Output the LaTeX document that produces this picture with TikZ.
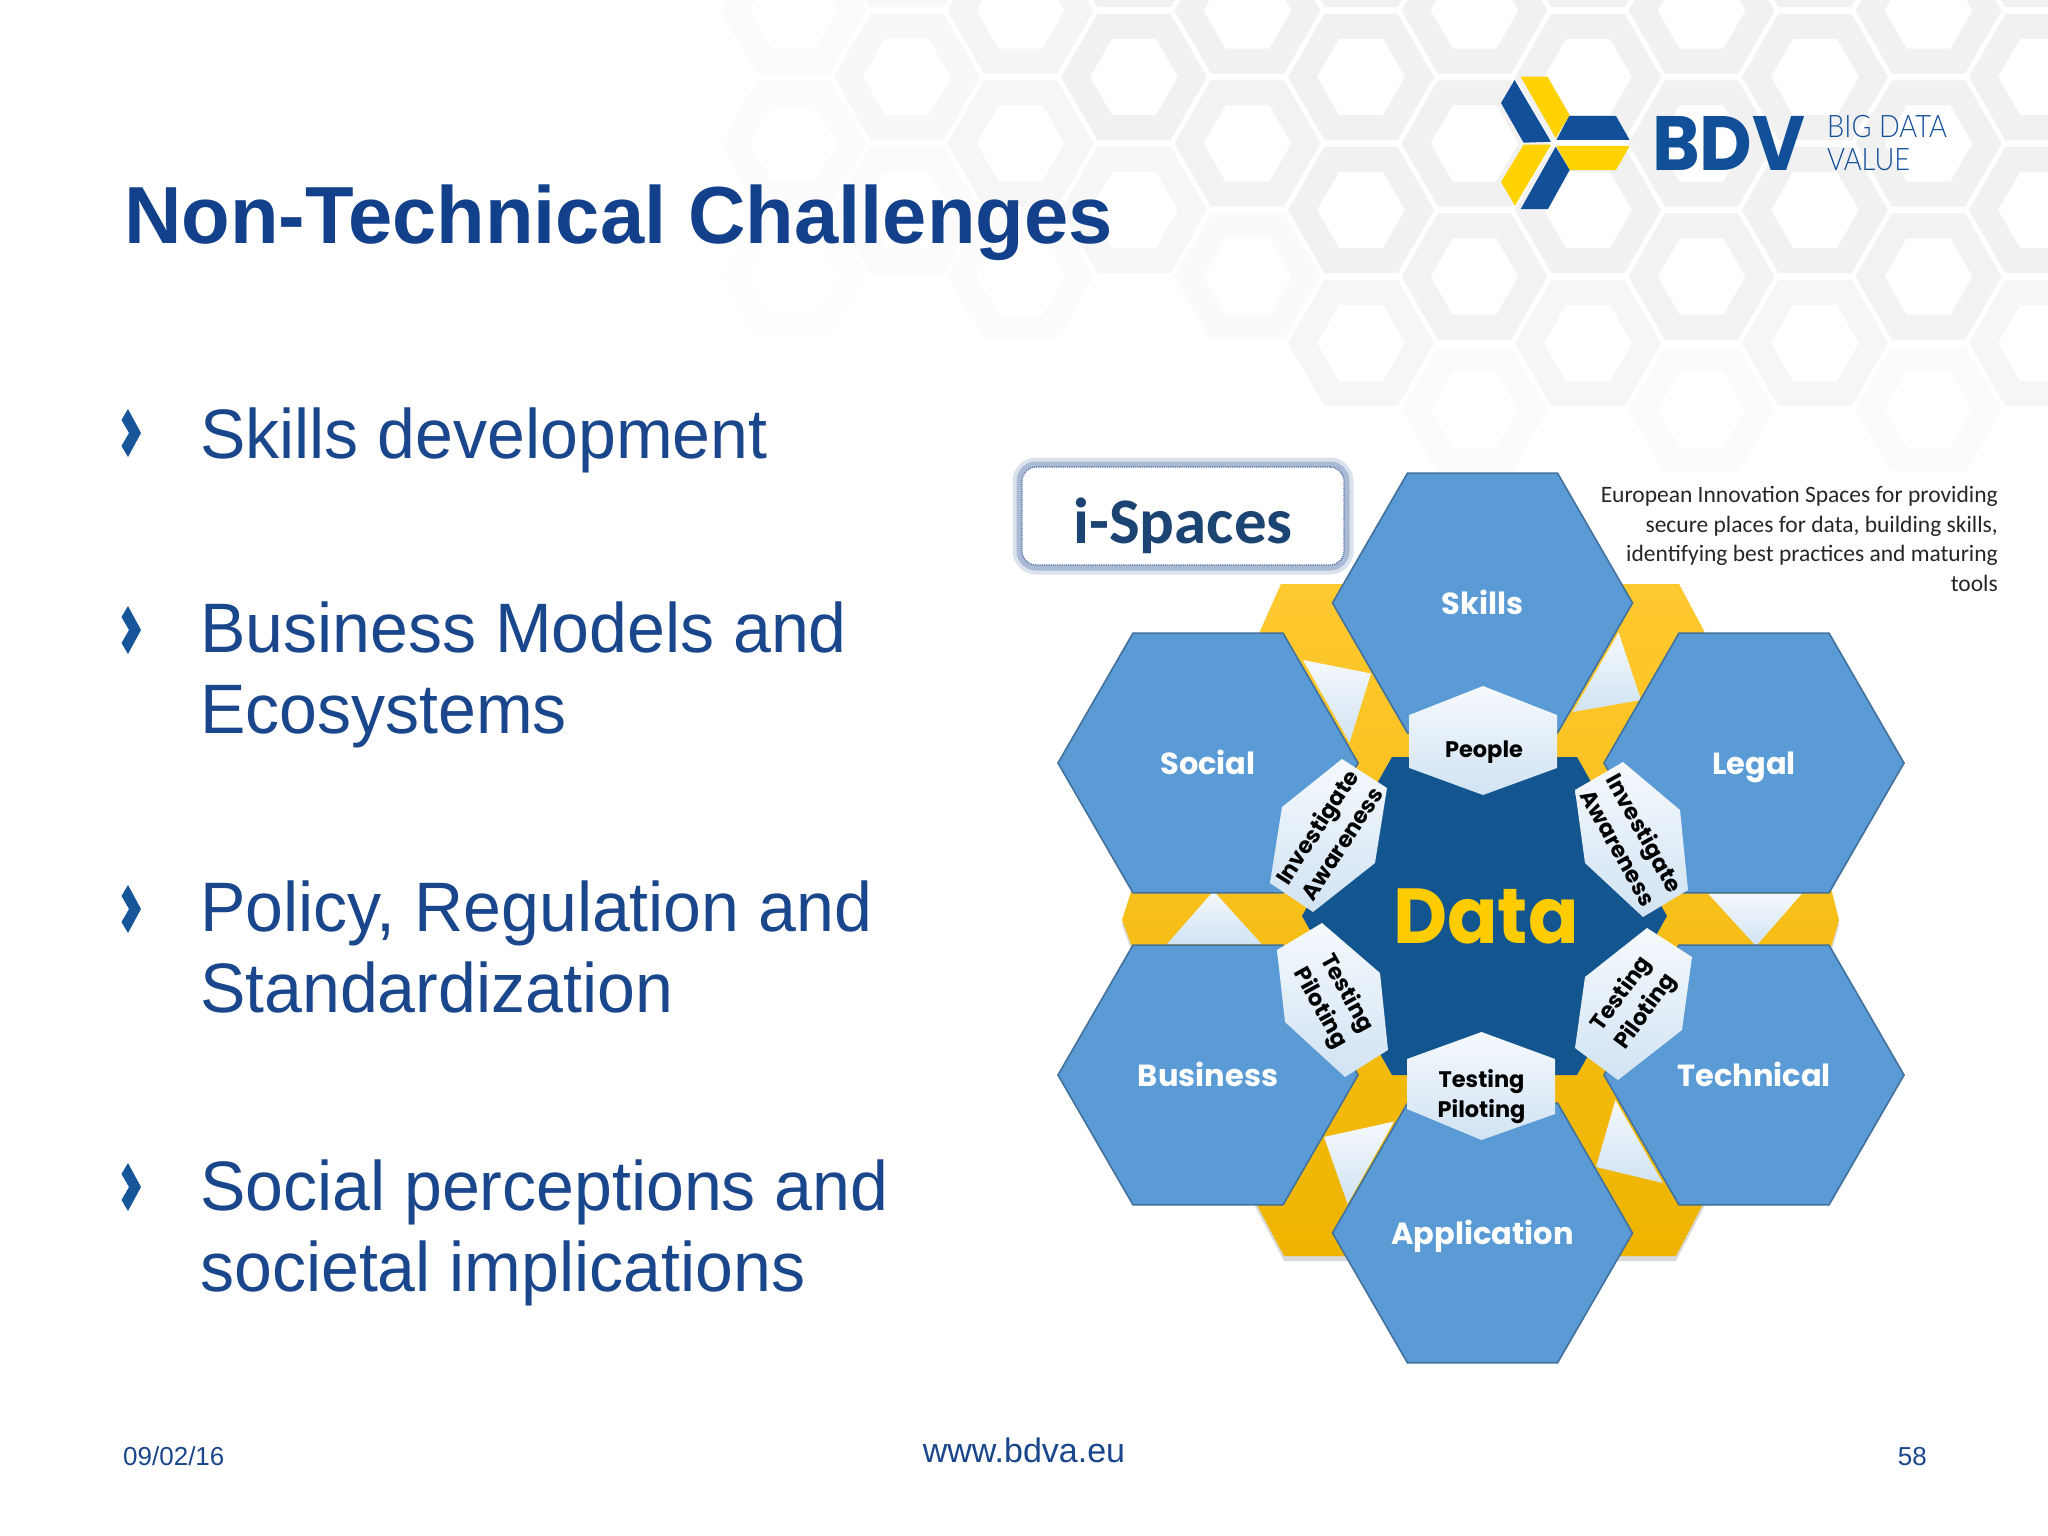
\documentclass[tikz,border=0pt]{standalone}
\usepackage{fontspec}
\setmainfont{Liberation Sans}
\newfontfamily\calfont{Carlito}
\newfontfamily\hexfont{Poppins}
\newfontfamily\thinfont{Lato Light}
\usetikzlibrary{shapes.geometric}
\definecolor{titleblue}{HTML}{12408A}
\definecolor{bodyblue}{HTML}{1A468C}
\definecolor{bulletblue}{HTML}{17559A}
\definecolor{cellblue}{HTML}{5B9BD5}
\definecolor{celledge}{HTML}{41719C}
\definecolor{coreblue}{HTML}{13558F}
\definecolor{logoblue}{HTML}{124F99}
\definecolor{logoyellow}{HTML}{FFD200}
\definecolor{datayellow}{HTML}{FFCC00}
\definecolor{groundtop}{HTML}{FFC930}
\definecolor{groundlow}{HTML}{EEB400}
\definecolor{honey}{HTML}{F1F1F1}
\definecolor{boxtext}{HTML}{1B4472}
\tikzset{
	hexcell/.style={regular polygon,regular polygon sides=6,minimum size=300pt,text height=27pt,text depth=5pt,
		fill=cellblue,draw=celledge,line width=1.6pt,text=white,font=\hexfont\bfseries\fontsize{30.5}{34}\selectfont,inner sep=0pt},
	tilefill/.style={top color=white!94!cellblue,bottom color=white!72!cellblue,draw=none},
	tiletext/.style={font=\hexfont\bfseries\fontsize{22.5}{30}\selectfont,text=black,align=center,inner sep=0pt},
	bodytext/.style={font=\fontsize{70}{80.7}\selectfont,text=bodyblue,align=left,inner sep=0pt,anchor=base west,xscale=.972},
	foottext/.style={font=\fontsize{26}{30}\selectfont,text=bodyblue,inner sep=0pt},
	ground/.style={insert path={(1281,584) -- (1679,584) -- (1701.5,626) -- (1832,892) -- (1839,920) -- (1832,944) -- (1701.5,1207)
		-- (1676,1256) -- (1284,1256) -- (1258,1207) -- (1131,944) -- (1122,920) -- (1131,892) -- (1261,629) -- cycle}},
}
\newcommand{\hexring}[3]{({#1-#3},#2) -- ({#1-.5*#3},{#2-.866*#3}) -- ({#1+.5*#3},{#2-.866*#3}) -- ({#1+#3},#2) -- ({#1+.5*#3},{#2+.866*#3}) -- ({#1-.5*#3},{#2+.866*#3}) -- cycle}
\begin{document}
\begin{tikzpicture}[x=1pt,y=-1pt]
	\useasboundingbox (0,0) rectangle (2048,1536);
	\fill[white] (0,0) rectangle (2048,1536);

	% honeycomb behind the title
	\begin{scope}
	\clip (700,0) rectangle (2048,470);
	\foreach \col in {-1,...,10}{
		\foreach \row in {-1,...,3}{
			\pgfmathsetmacro\cx{907+113.5*\col}
			\pgfmathsetmacro\cy{77+133*\row+66.5*mod(\col+2,2)}
			\pgfmathsetmacro\cut{\cx<1260 ? 340 : 470}
			\pgfmathsetmacro\op{min(1,max(0,(\cut-\cy)/220))*min(1,max(0.2,(\cx-680)/480))}
			\fill[honey,even odd rule,opacity=\op] \hexring{\cx}{\cy}{73} \hexring{\cx}{\cy}{44};
		}
	}
	\end{scope}

	% logo
	\fill[logoblue] (1569,116) -- (1616,116) -- (1629.6,140) -- (1556.4,140) -- cycle;
	\fill[logoyellow] (1556.4,146) -- (1629.6,146) -- (1616,170) -- (1569.6,170) -- cycle;
	\fill[logoblue] (1514.6,80) -- (1551,141.7) -- (1523.6,142.7) -- (1501,103) -- cycle;
	\fill[logoyellow] (1520.7,76.7) -- (1547.5,76.7) -- (1569.6,115) -- (1555.7,138) -- cycle;
	\fill[logoyellow] (1523.6,144.7) -- (1551,144.7) -- (1515,205.7) -- (1501,182) -- cycle;
	\fill[logoblue] (1555.7,146.7) -- (1569.6,170) -- (1548,209) -- (1520.7,209) -- cycle;
	\node[inner sep=0pt,anchor=base west,xscale=.94,text=logoblue,font=\hexfont\bfseries\fontsize{77}{80}\selectfont] (bdv) at (1652,170) {BDV};
	\node[inner sep=0pt,anchor=base west,xscale=.88,text=logoblue,font=\thinfont\fontsize{31}{32}\selectfont] (bigdata) at (1827,138) {BIG DATA};
	\node[inner sep=0pt,anchor=base west,xscale=.88,text=logoblue,font=\thinfont\fontsize{31}{32}\selectfont] (value) at (1827,170) {VALUE};

	% title and list
	\node[inner sep=0pt,anchor=base west,xscale=.982,text=titleblue,font=\bfseries\fontsize{81}{90}\selectfont] (title) at (124,243) {Non-Technical Challenges};
	\node[bodytext] (skilldev) at (200,458) {Skills development};
	\node[bodytext] (bizmodel) at (200,733) {Business Models and\\Ecosystems};
	\node[bodytext] (policy) at (200,1012) {Policy, Regulation and\\Standardization};
	\node[bodytext] (social) at (200,1291) {Social perceptions and\\societal implications};
	\foreach \y in {433,630,909,1187}
		\fill[bulletblue] (121.5,\y-13) -- (128,\y-24) -- (141,\y) -- (128,\y+24) -- (121.5,\y+13) -- (129,\y) -- cycle;

	% yellow ground
	\fill[black,opacity=.15,yshift=-5pt,ground];
	\shade[top color=groundtop,bottom color=groundlow,ground];
	\shade[tilefill] (1303,660) -- (1371,673.5) -- (1349.5,742.6) -- cycle;
	\shade[tilefill] (1618.6,632.5) -- (1641,700) -- (1572.7,712) -- cycle;
	\shade[tilefill] (1708,893.5) -- (1802,893.5) -- (1756,946) -- cycle;
	\shade[tilefill] (1615.4,1100) -- (1663,1183) -- (1596,1167) -- cycle;
	\shade[tilefill] (1324,1137) -- (1394,1121.5) -- (1347.6,1204) -- cycle;
	\shade[tilefill] (1213.6,891) -- (1261.5,944) -- (1167,944) -- cycle;

	% outer cells
	\node[hexcell] (skills) at (1482.5,603) {Skills};
	\node[hexcell] (socialcell) at (1208,763) {Social};
	\node[hexcell] (legal) at (1754,763) {Legal};
	\node[hexcell] (business) at (1208,1075) {Business};
	\node[hexcell] (technical) at (1754,1075) {Technical};
	\node[hexcell] (application) at (1482.5,1233) {Application};

	% centre
	\fill[coreblue] (1392,757) -- (1577,757) -- (1667,916) -- (1577,1075) -- (1392,1075) -- (1302,916) -- cycle;
	\node[inner sep=0pt,xscale=.955,text=datayellow,font=\hexfont\bfseries\fontsize{78}{80}\selectfont] (data) at (1486,916) {Data};

	% small tiles
	\shade[tilefill] (1409.4,715) -- (1483,686) -- (1557,715) -- (1557,768) -- (1483,795) -- (1409.4,768) -- cycle;
	\shade[tilefill] (1407,1059) -- (1481.5,1032) -- (1555,1059) -- (1555,1114) -- (1481.5,1140) -- (1407,1109) -- cycle;
	\shade[tilefill] (1342,759) -- (1387,788) -- (1375,863) -- (1313,912) -- (1270,883) -- (1282,807) -- cycle;
	\shade[tilefill] (1623,762) -- (1680,810) -- (1688,890) -- (1643,917) -- (1585,863) -- (1575,790) -- cycle;
	\shade[tilefill] (1322,923) -- (1380,973) -- (1388,1050) -- (1345,1077) -- (1285,1022) -- (1277,950) -- cycle;
	\shade[tilefill] (1647,928) -- (1692,957) -- (1682,1030) -- (1618,1080) -- (1575,1048) -- (1585,977) -- cycle;
	\node[tiletext] (people) at (1484,752) {People};
	\node[tiletext] (testbottom) at (1481.5,1097) {Testing\\Piloting};
	\node[tiletext,rotate=57] (awareleft) at (1329,835) {Investigate\\Awareness};
	\node[tiletext,rotate=-61] (awareright) at (1632,840) {Investigate\\Awareness};
	\node[tiletext,rotate=-61] (testleft) at (1333,1001) {Testing\\Piloting};
	\node[tiletext,rotate=54] (testright) at (1634,1003) {Testing\\Piloting};

	% i-Spaces box and note
	\draw[line width=19pt,opacity=.22,draw=bodyblue!70!white,rounded corners=14pt] (1022,467) rectangle (1344,565);
	\draw[line width=11pt,opacity=.4,draw=bodyblue!70!white,rounded corners=14pt] (1022,467) rectangle (1344,565);
	\node[draw=bodyblue!80!white,densely dotted,line width=1.2pt,rounded corners=14pt,fill=white,minimum width=322pt,minimum height=98pt,inner sep=0pt] (ispacesbox) at (1183,516) {};
	\node[text=boxtext,font=\calfont\bfseries\fontsize{65}{70}\selectfont,inner sep=0pt] (ispaces) at (1183,526) {i-Spaces};
	\node[inner sep=0pt,anchor=north east,align=right,text=black!85,font=\calfont\fontsize{23.5}{29.6}\selectfont] (note) at (1998,486)
		{European Innovation Spaces for providing\\secure places for data, building skills,\\identifying best practices and maturing\\tools};

	% footer
	\node[foottext,anchor=base west] (date) at (123,1465) {09/02/16};
	\node[foottext,anchor=base] (site) at (1024,1462) {\fontsize{34}{36}\selectfont www.bdva.eu};
	\node[foottext,anchor=base east] (page) at (1927,1465) {58};
\end{tikzpicture}
\end{document}
